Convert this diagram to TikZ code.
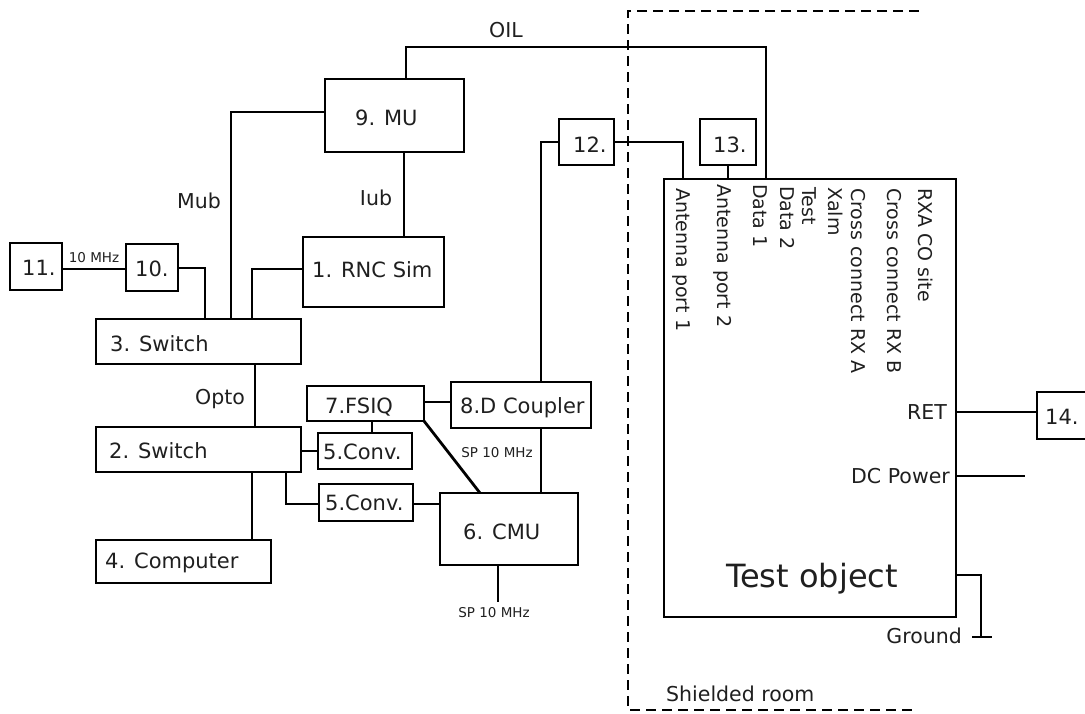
\documentclass[tikz,border=0pt]{standalone}
\usepackage{fontspec}
\setmainfont{DejaVu Sans}
\usetikzlibrary{calc}
\begin{document}
\begin{tikzpicture}[x=1pt,y=-1pt,
  box/.style={draw, line width=2.8pt, inner sep=0pt, outer sep=0pt},
  wire/.style={line width=2.8pt},
  room/.style={line width=2.6pt, dash pattern=on 10pt off 6pt},
  btxt/.style={inner sep=0pt, anchor=base west, text=black!88, font=\fontsize{21}{25}\selectfont},
  ltxt/.style={inner sep=0pt, anchor=base, text=black!88, font=\fontsize{20.5}{24}\selectfont},
  stxt/.style={inner sep=0pt, anchor=base, text=black!88, font=\fontsize{13.5}{15}\selectfont},
  rtxt/.style={inner sep=0pt, anchor=base west, rotate=-90, text=black!88, font=\fontsize{19}{22}\selectfont}]
\useasboundingbox (0,0) rectangle (1085,713);

% boxes
\node[box, minimum width=52pt,  minimum height=47pt]  (n11)   at (36,266.5)   {};
\node[box, minimum width=52pt,  minimum height=47pt]  (n10)   at (152,267.5)  {};
\node[box, minimum width=139pt, minimum height=73pt]  (mu)    at (394.5,115.5) {};
\node[box, minimum width=141pt, minimum height=70pt]  (rnc)   at (373.5,272)  {};
\node[box, minimum width=205pt, minimum height=45pt]  (sw3)   at (198.5,341.5) {};
\node[box, minimum width=205pt, minimum height=45pt]  (sw2)   at (198.5,449.5) {};
\node[box, minimum width=175pt, minimum height=43pt]  (comp)  at (183.5,561.5) {};
\node[box, minimum width=117pt, minimum height=35pt]  (fsiq)  at (365.5,403.5) {};
\node[box, minimum width=140pt, minimum height=46pt]  (dc)    at (521,405)    {};
\node[box, minimum width=94pt,  minimum height=36pt]  (conv1) at (365,451)    {};
\node[box, minimum width=94pt,  minimum height=37pt]  (conv2) at (366,502.5)  {};
\node[box, minimum width=138pt, minimum height=72pt]  (cmu)   at (509,529)    {};
\node[box, minimum width=55pt,  minimum height=46pt]  (n12)   at (586.5,142)  {};
\node[box, minimum width=56pt,  minimum height=46pt]  (n13)   at (728,142)    {};
\node[box, minimum width=292pt, minimum height=438pt] (test)  at (810,398)    {};
\node[box, minimum width=52pt,  minimum height=47pt]  (n14)   at (1063,415.5) {};

% box texts
\node[btxt] (t11)   at (22,275)   {11.};
\node[btxt] (t10)   at (135,276)  {10.};
\node[btxt] (tmu)   at (355,125)  {9. MU};
\node[btxt] (trnc)  at (312,277)  {1. RNC Sim};
\node[btxt] (tsw3)  at (110,351)  {3. Switch};
\node[btxt] (tsw2)  at (109,458)  {2. Switch};
\node[btxt] (tcomp) at (105,568)  {4. Computer};
\node[btxt] (tfsiq) at (325,413)  {7.FSIQ};
\node[btxt] (tdc)   at (460,413)  {8.D Coupler};
\node[btxt] (tcv1)  at (323,459)  {5.Conv.};
\node[btxt] (tcv2)  at (325,510)  {5.Conv.};
\node[btxt] (tcmu)  at (463,539)  {6. CMU};
\node[btxt] (t12)   at (573,152)  {12.};
\node[btxt] (t13)   at (713,152)  {13.};
\node[btxt] (t14)   at (1045,424) {14.};
\node[inner sep=0pt, anchor=base, text=black!88, font=\fontsize{32}{38}\selectfont] (ttest) at (812,587) {Test object};

% port labels on test object
\node[rtxt] (p1) at (676,188) {Antenna port 1};
\node[rtxt] (p2) at (717,184) {Antenna port 2};
\node[rtxt] (p3) at (753,184) {Data 1};
\node[rtxt] (p4) at (780,186) {Data 2};
\node[rtxt] (p5) at (802,187) {Test};
\node[rtxt] (p6) at (828,187) {Xalm};
\node[rtxt] (p7) at (851,188) {Cross connect RX A};
\node[rtxt] (p8) at (887,188) {Cross connect RX B};
\node[rtxt] (p9) at (918,188) {RXA CO site};

% connectors
\draw[wire] ($(mu.north west)+(81,0)$) -- ++(0,-32) -| ($(test.north west)+(102,0)$);
\draw[wire] ($(mu.north west)+(0,33)$) -| ($(sw3.north west)+(135,0)$);
\draw[wire] ($(mu.south west)+(79,0)$) -- ($(rnc.north west)+(101,0)$);
\draw[wire] ($(rnc.north west)+(0,32)$) -| ($(sw3.north west)+(156,0)$);
\draw[wire] ($(n10.north east)+(0,24)$) -| ($(sw3.north west)+(109,0)$);
\draw[wire] ($(n11.north east)+(0,26)$) -- ($(n10.north west)+(0,25)$);
\draw[wire] ($(sw3.south west)+(159,0)$) -- ($(sw2.north west)+(159,0)$);
\draw[wire] ($(sw2.north east)+(0,24)$) -- ($(conv1.north west)+(0,18)$);
\draw[wire] ($(sw2.south west)+(190,0)$) |- ($(conv2.north west)+(0,20)$);
\draw[wire] ($(sw2.south west)+(156,0)$) -- ($(comp.north west)+(156,0)$);
\draw[wire] ($(fsiq.south west)+(65,0)$) -- ($(conv1.north west)+(54,0)$);
\draw[wire] ($(fsiq.north east)+(0,16)$) -- ($(dc.north west)+(0,20)$);
\draw[wire] (fsiq.south east) -- ($(cmu.north west)+(40,0)$);
\draw[wire] ($(conv2.north east)+(0,20)$) -- ($(cmu.north west)+(0,11)$);
\draw[wire] ($(dc.south west)+(90,0)$) -- ($(cmu.north west)+(101,0)$);
\draw[wire] ($(dc.north west)+(90,0)$) |- ($(n12.north west)+(0,23)$);
\draw[wire] ($(n12.north east)+(0,23)$) -| ($(test.north west)+(19,0)$);
\draw[wire] (n13.south) -- (n13.south |- test.north);
\coordinate (spend) at (498,602);
\draw[wire] ($(cmu.south west)+(58,0)$) -- (spend);
\draw[wire] ($(test.north east)+(0,233)$) -- ($(n14.north west)+(0,20)$);
\coordinate (dcend) at (1025,476);
\draw[wire] ($(test.north east)+(0,297)$) -- (dcend);
\coordinate (gnd) at (981,637);
\draw[wire] ($(test.north east)+(0,396)$) -| (gnd);
\draw[wire] ($(gnd)+(-9,0)$) -- ($(gnd)+(11,0)$);

% shielded room
\coordinate (sr1) at (919,11);
\coordinate (sr2) at (628,11);
\coordinate (sr3) at (628,710);
\coordinate (sr4) at (917,710);
\draw[room] (sr1) -- (sr2) -- (sr3) -- (sr4);

% connector labels
\node[ltxt] (loil)  at (506,37)  {OIL};
\node[ltxt] (lmub)  at (199,208) {Mub};
\node[ltxt] (liub)  at (376,205) {Iub};
\node[ltxt] (lopto) at (220,404) {Opto};
\node[stxt] (l10)   at (94,262)  {10 MHz};
\node[stxt] (lsp1)  at (497,457) {SP 10 MHz};
\node[stxt] (lsp2)  at (494,617) {SP 10 MHz};
\node[ltxt, anchor=base east] (lret) at (947,419) {RET};
\node[ltxt, anchor=base east] (ldcp) at (950,483) {DC Power};
\node[ltxt, anchor=base east] (lgnd) at (962,643) {Ground};
\node[ltxt, anchor=base west] (lroom) at (666,701) {Shielded room};
\end{tikzpicture}
\end{document}
